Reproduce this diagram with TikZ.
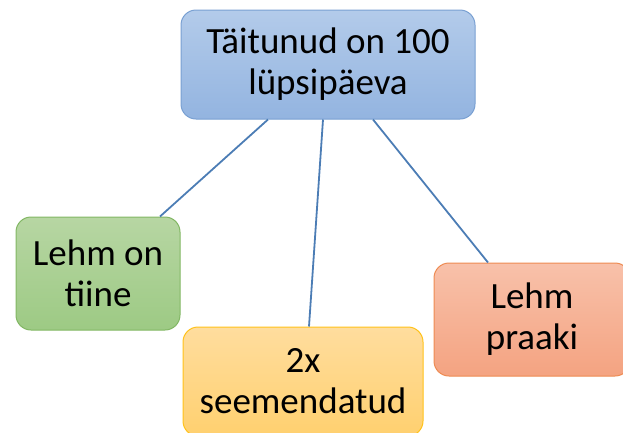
\documentclass[tikz,border=0pt]{standalone}
\usepackage{fontspec}
\setmainfont{Carlito}
\usetikzlibrary{calc}
\definecolor{blueedge}{HTML}{79A0D2}
\definecolor{bluetop}{HTML}{B3CBEA}
\definecolor{bluebot}{HTML}{93B4E0}
\definecolor{greenedge}{HTML}{82B764}
\definecolor{greentop}{HTML}{B7D6A3}
\definecolor{greenbot}{HTML}{9DCA84}
\definecolor{yellowedge}{HTML}{FFC21A}
\definecolor{yellowtop}{HTML}{FFDD9E}
\definecolor{yellowbot}{HTML}{FFD06F}
\definecolor{orangeedge}{HTML}{EE8B52}
\definecolor{orangetop}{HTML}{F8C1AA}
\definecolor{orangebot}{HTML}{F4A381}
\definecolor{wire}{HTML}{4C7DB5}
\tikzset{
  box/.style={draw, line width=1pt, rounded corners=15pt, align=center,
    inner sep=0pt, font=\fontsize{37}{41}\selectfont},
  link/.style={draw=wire, line width=1.8pt}
}
\begin{document}
\begin{tikzpicture}[x=1pt, y=-1pt]
	% frame and clip
	\useasboundingbox (0,0) rectangle (623,432);
	\clip (0,0) rectangle (623,432);
	% Boxes:
	\node[box, draw=blueedge, top color=bluetop, bottom color=bluebot,
	  minimum width=294pt, minimum height=109pt] (milk) at (328,64.5)
	  {Täitunud on 100\\lüpsipäeva};
	\node[box, draw=greenedge, top color=greentop, bottom color=greenbot,
	  minimum width=164pt, minimum height=113pt] (calf) at (98,273.5)
	  {Lehm on\\tiine};
	\node[box, draw=yellowedge, top color=yellowtop, bottom color=yellowbot,
	  minimum width=240pt, minimum height=109pt] (seed) at (303,381.5)
	  {2x\\seemendatud};
	\node[box, draw=orangeedge, top color=orangetop, bottom color=orangebot,
	  minimum width=196pt, minimum height=113pt] (cull) at (532,319.5)
	  {Lehm\\praaki};
	% Connectors:
	\draw[link] ($(milk.south)+(-60,0)$) -- ($(calf.north)+(62,0)$);
	\draw[link] ($(milk.south)+(-5,0)$) -- ($(seed.north)+(6,0)$);
	\draw[link] ($(milk.south)+(45,0)$) -- ($(cull.north)+(-44,0)$);
\end{tikzpicture}
\end{document}
